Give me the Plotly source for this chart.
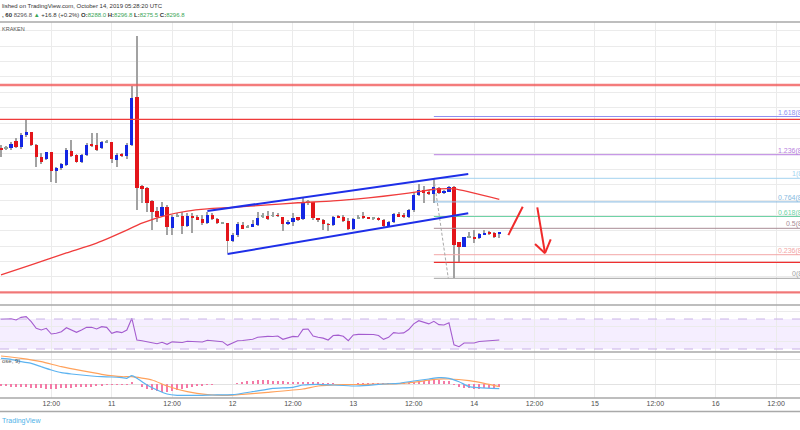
import plotly.graph_objects as go
import pandas as pd

# ---------------- data ----------------
START = "2019-10-10 02:00"   # first visible hourly candle

opens = [8568, 8568, 8570, 8592, 8573, 8610, 8620, 8579, 8541, 8534,
         8555, 8493, 8503, 8513, 8560, 8546, 8522, 8546, 8581, 8579,
         8568, 8588, 8588, 8531, 8547, 8542, 8579, 8736, 8446, 8438,
         8397, 8364, 8349, 8378, 8310, 8348, 8349, 8315, 8349, 8344,
         8338, 8324, 8350, 8337, 8326, 8324, 8268, 8286, 8320, 8313,
         8313, 8319, 8346, 8349, 8348, 8351, 8345, 8322, 8330, 8344,
         8337, 8391, 8392, 8339, 8335, 8322, 8319, 8348, 8344, 8333,
         8305, 8341, 8346, 8344, 8340, 8340, 8334, 8315, 8329, 8353,
         8351, 8344, 8367, 8416, 8432, 8427, 8418, 8440, 8424, 8427,
         8443, 8262, 8248, 8279, 8279, 8275, 8289, 8294, 8292, 8288.0]
highs = [8579, 8575, 8590, 8601, 8618, 8660, 8622, 8582, 8553, 8557,
         8557, 8508, 8521, 8568, 8595, 8548, 8549, 8584, 8618, 8619,
         8593, 8595, 8590, 8553, 8553, 8584, 8770, 8933, 8449, 8443,
         8400, 8378, 8394, 8384, 8351, 8359, 8362, 8357, 8359, 8351,
         8351, 8362, 8359, 8341, 8330, 8326, 8292, 8330, 8330, 8319,
         8335, 8362, 8357, 8365, 8362, 8357, 8346, 8335, 8359, 8346,
         8405, 8400, 8394, 8342, 8337, 8326, 8348, 8351, 8351, 8340,
         8340, 8351, 8362, 8346, 8346, 8344, 8337, 8333, 8359, 8362,
         8357, 8370, 8422, 8452, 8445, 8432, 8465, 8443, 8432, 8445,
         8445, 8264, 8281, 8297, 8302, 8292, 8302, 8300, 8297, 8296.8]
lows = [8540, 8562, 8562, 8569, 8566, 8606, 8575, 8508, 8517, 8530,
        8459, 8456, 8497, 8510, 8541, 8520, 8520, 8543, 8573, 8559,
        8566, 8585, 8519, 8508, 8540, 8532, 8575, 8367, 8389, 8362,
        8302, 8330, 8346, 8286, 8286, 8344, 8290, 8313, 8294, 8335,
        8319, 8322, 8335, 8322, 8322, 8228, 8264, 8281, 8305, 8309,
        8311, 8316, 8340, 8335, 8344, 8346, 8300, 8319, 8315, 8333,
        8335, 8384, 8335, 8330, 8302, 8300, 8315, 8340, 8327, 8302,
        8302, 8337, 8337, 8337, 8335, 8333, 8313, 8313, 8326, 8344,
        8340, 8340, 8362, 8413, 8389, 8416, 8389, 8418, 8421, 8425,
        8145.5, 8200, 8246, 8276, 8259, 8273, 8287, 8286, 8275, 8275.5]
closes = [8565, 8569, 8582, 8573, 8610, 8620, 8579, 8541, 8524, 8555,
          8493, 8503, 8516, 8562, 8544, 8522, 8545, 8580, 8578, 8562,
          8588, 8589, 8532, 8545, 8543, 8580, 8730, 8438, 8436, 8391,
          8360, 8346, 8378, 8311, 8346, 8347, 8315, 8349, 8344, 8338,
          8324, 8350, 8337, 8324, 8325, 8268, 8286, 8321, 8307, 8312,
          8321, 8342, 8347, 8338, 8349, 8348, 8322, 8330, 8340, 8335,
          8389, 8392, 8342, 8335, 8322, 8319, 8346, 8342, 8333, 8305,
          8337, 8342, 8342, 8339, 8341, 8335, 8315, 8329, 8353, 8346,
          8344, 8367, 8416, 8432, 8424, 8418, 8443, 8424, 8427, 8443,
          8254, 8248, 8279, 8280, 8275, 8289, 8294, 8290, 8280, 8296.8]

# moving average (read at selected candle indices)
ma_idx = [0, 6, 13, 19, 25, 28, 33, 37, 41, 46, 53, 59, 66, 73, 79, 83, 86, 90, 99]
ma_val = [8157, 8189, 8228, 8260, 8302, 8325, 8351, 8364, 8371, 8376,
          8384, 8391, 8397, 8407, 8418, 8427, 8435, 8436, 8402]

rsi = [69.6, 70, 70.4, 68.7, 72.2, 73.1, 66.4, 57.6, 55.3, 57.6,
       50, 50.9, 53.1, 58.4, 55.3, 52.2, 55.3, 58.9, 58.9, 56.7,
       59.8, 58.9, 50.9, 53.1, 51.8, 55.3, 70.9, 42, 41.1, 39.8,
       38.5, 37, 38.9, 36.2, 39.5, 39.5, 38.6, 40.3, 40, 39.5,
       39.3, 41.6, 41, 40.5, 39.8, 34.9, 37.6, 41.1, 41.4, 41.8,
       43, 45.6, 46.5, 46.9, 46.6, 47.3, 42.9, 44.5, 46.8, 46.4,
       56.2, 56.7, 47.3, 45.6, 44.5, 42, 48, 48.5, 47, 41.1,
       48.7, 49.5, 49.6, 49.6, 49.3, 48, 42.9, 45.5, 51.8, 51,
       51.5, 56, 63.5, 67.8, 66, 63.5, 67, 62.5, 62, 65,
       35.5, 33.1, 38, 38.4, 38, 40, 40.5, 40.7, 40.7, 42]

macd_idx = [0, 2, 4, 6, 8, 10, 12, 14, 16, 18, 20, 22, 24, 25, 26, 27, 29, 31, 33, 35,
            37, 40, 42, 46, 50, 54, 58, 60, 63, 66, 70, 73, 76, 79, 82, 85, 87, 89, 91, 93,
            95, 99]
macd_val = [51.4, 49.4, 44.6, 41.4, 34.6, 28, 22.6, 20, 18, 16, 14.6, 14, 12.6, 11.4, 16.6,
            11.4, -2, -12, -20, -22.6, -22.6, -22.6, -22, -21.4, -15.4, -8.6, -6.6, -2, -0.6,
            -2, -4, -2.6, 0, 1.4, 6, 10, 12.6, 11.4, 4.6, -5.4, -7.4, -9.4]
sig_idx = [0, 4, 8, 12, 16, 20, 24, 26, 30, 33, 37, 41, 45, 48, 53, 60, 63, 68, 73, 79,
           83, 86, 89, 93, 96, 99]
sig_val = [56, 51.4, 44.6, 34.6, 26.6, 19.4, 14.6, 14.6, 8, -4, -15.4, -21.4, -22.6, -20.6,
           -16.6, -10, -4, -1.4, -0.6, 0.6, 4.6, 9.4, 10, 6.6, 1.4, -5.4]
hist = [-4, -4, -5, -5, -5, -6, -7, -8, -8, -9, -9, -9, -8, -8, -7, -6, -6, -6, -5, -4,
        -3, -2, -2, -2, -1, -1, 5, 0, -6, -10, -12, -14, -16, -16, -14, -12, -10, -8, -6, -4,
        -3, -2, -1, 0, 0, 0, 0, 2, 4, 6, 7, 8, 8, 8, 7, 6, 6, 5, 4, 4,
        5, 5, 4, 3, 2, 1, 1, 0, 0, 0, 0, 1, 1, 1, 1, 1, 1, 1, 2, 2,
        2, 3, 4, 6, 7, 8, 8, 8, 7, 6, -2, -5, -7, -8, -9, -9, -8, -8, -7, -6]

tick_text = ["12:00", "11", "12:00", "12", "12:00", "13", "12:00", "14",
             "12:00", "15", "12:00", "16", "12:00"]

# drawings (time, price)
hlines_full = [8773.75, 8662, 8100]
red_ray = ("2019-10-13 16:00", 8197.5)
channel_upper = [("2019-10-11 19:00", 8364.2), ("2019-10-13 22:50", 8484.5)]
channel_lower = [("2019-10-11 23:00", 8224.5), ("2019-10-13 22:50", 8356.8)]
fib_start = "2019-10-13 16:00"
fib_p1 = 8470.5
fib_p0 = 8145.5
fib_end_time = "2019-10-13 18:52"
fib_levels = [0, 0.236, 0.5, 0.618, 0.764, 1, 1.236, 1.618]
fib_names = ["0", "0.236", "0.5", "0.618", "0.764", "1", "1.236", "1.618"]
up_stroke = [("2019-10-14 06:48", 8286), ("2019-10-14 09:39", 8378)]
arrow_shaft = [("2019-10-14 12:33", 8376), ("2019-10-14 14:05", 8227)]
arrow_head_l = ("2019-10-14 12:06", 8257)
arrow_head_r = ("2019-10-14 15:13", 8272)

# ---------------- styling ----------------
H = 430.0
def yp(px):
    return 1 - px / H

UP = "#1427e3"
DN = "#e3151a"
DOJI = "#8fa39a"
WICK = "#a2a2a2"
GRID = "#ebebeb"
BORDER = "#a9a9a9"
FONT = "Liberation Sans, Arial, sans-serif"
fib_colors = ["#a3a3a3", "#f3a6a6", "#a88b94", "#6fd3a6", "#86b9e0", "#a3d3ef", "#b97fe0", "#8f90f2"]

t0 = pd.Timestamp(START)
def at(i):
    return t0 + pd.Timedelta(hours=i)
times = [at(i) for i in range(len(opens))]
HOUR_MS = 3600 * 1000
PXH = 60.4 / 12.0
xr = [t0 - pd.Timedelta(hours=1 / PXH), t0 + pd.Timedelta(hours=799 / PXH)]
grid_times = [at(10) + pd.Timedelta(hours=12 * k) for k in range(len(tick_text))]

body_base = [min(o, c) for o, c in zip(opens, closes)]
body_h = [max(abs(c - o), 3.0) for o, c in zip(opens, closes)]
body_col = [DOJI if abs(c - o) <= 1.5 else (UP if c > o else DN) for o, c in zip(opens, closes)]

fig = go.Figure()
fig.add_trace(go.Bar(x=times, y=[h - l for h, l in zip(highs, lows)], base=lows,
                     width=0.2 * HOUR_MS, marker=dict(color=WICK, line=dict(width=0)),
                     xaxis="x", yaxis="y", hoverinfo="skip"))
fig.add_trace(go.Bar(x=times, y=body_h, base=body_base, width=0.64 * HOUR_MS,
                     marker=dict(color=body_col, line=dict(width=0)),
                     xaxis="x", yaxis="y", hoverinfo="skip"))
fig.add_trace(go.Scatter(x=[at(i) for i in ma_idx], y=ma_val, mode="lines",
                         line=dict(color="#f03c3c", width=1.3, shape="spline", smoothing=0.6),
                         xaxis="x", yaxis="y"))
fig.add_trace(go.Scatter(x=times, y=rsi, mode="lines", line=dict(color="#a45ccf", width=1.1),
                         xaxis="x2", yaxis="y2"))
fig.add_trace(go.Bar(x=times, y=hist, width=0.26 * HOUR_MS,
                     marker=dict(color="#f47aa6", line=dict(width=0)), xaxis="x3", yaxis="y3"))
fig.add_trace(go.Scatter(x=[at(i) for i in sig_idx], y=sig_val, mode="lines",
                         line=dict(color="#ffa25c", width=1.2, shape="spline", smoothing=0.5),
                         xaxis="x3", yaxis="y3"))
fig.add_trace(go.Scatter(x=[at(i) for i in macd_idx], y=macd_val, mode="lines",
                         line=dict(color="#5cb3f0", width=1.2, shape="spline", smoothing=0.5),
                         xaxis="x3", yaxis="y3"))

xcommon = dict(type="date", range=xr, tickmode="array", tickvals=grid_times,
               showgrid=True, gridcolor=GRID, gridwidth=1, zeroline=False, showline=False,
               ticks="", fixedrange=True)
fig.update_layout(
    width=800, height=430, margin=dict(l=0, r=0, t=0, b=0),
    paper_bgcolor="white", plot_bgcolor="white", showlegend=False,
    barmode="overlay", bargap=0,
    font=dict(family=FONT),
    xaxis=dict(xcommon, anchor="y", showticklabels=False),
    xaxis2=dict(xcommon, anchor="y2", showticklabels=False),
    xaxis3=dict(xcommon, anchor="y3", showticklabels=True, ticktext=tick_text,
                tickfont=dict(size=7, color="#4d4d4d", family=FONT)),
    yaxis=dict(domain=[yp(305), yp(22)], range=[8058.75, 8978.5], dtick=50, tick0=0,
               showgrid=True, gridcolor=GRID, zeroline=False, showticklabels=False, ticks=""),
    yaxis2=dict(domain=[yp(352), yp(305)], range=[26, 88.7], tickvals=[40, 60, 80],
                showgrid=True, gridcolor=GRID, zeroline=False, showticklabels=False, ticks=""),
    yaxis3=dict(domain=[yp(398), yp(352)], range=[-28, 64], tickvals=[0, 50],
                showgrid=True, gridcolor="#e2e2e2", zeroline=False, showticklabels=False, ticks=""),
)

shapes = []
# RSI band
shapes.append(dict(type="rect", xref="paper", yref="y2", x0=0, x1=1, y0=30, y1=70,
                   fillcolor="rgba(160,100,255,0.11)", line=dict(width=0), layer="below"))
for lv in (70, 30):
    shapes.append(dict(type="line", xref="paper", yref="y2", x0=0, x1=1, y0=lv, y1=lv,
                       line=dict(color="#c9b2e6", width=1, dash="dash")))
# horizontal author lines
hl_styles = [("rgba(240,80,80,0.75)", 2.3), ("#ef3b3b", 1.3), ("rgba(240,80,80,0.75)", 2.3)]
for p, (c, w) in zip(hlines_full, hl_styles):
    shapes.append(dict(type="line", xref="paper", yref="y", x0=0, x1=1, y0=p, y1=p,
                       line=dict(color=c, width=w)))
shapes.append(dict(type="line", xref="x", yref="y", x0=red_ray[0], x1="2019-10-17 12:00",
                   y0=red_ray[1], y1=red_ray[1], line=dict(color="#ef2f2f", width=1.3)))
# fib
for lv, c in zip(fib_levels, fib_colors):
    p = fib_p0 + lv * (fib_p1 - fib_p0)
    shapes.append(dict(type="line", xref="x", yref="y", x0=fib_start, x1="2019-10-17 12:00",
                       y0=p, y1=p, line=dict(color=c, width=1)))
shapes.append(dict(type="line", xref="x", yref="y", x0=fib_start, x1=fib_end_time,
                   y0=fib_p1, y1=fib_p0, line=dict(color="#a8a8a8", width=1, dash="3px,2px")))
# channel
for seg in (channel_upper, channel_lower):
    shapes.append(dict(type="line", xref="x", yref="y", x0=seg[0][0], x1=seg[1][0],
                       y0=seg[0][1], y1=seg[1][1], line=dict(color="#1e2fe8", width=2)))
# red strokes / arrow
for a, b in (up_stroke, arrow_shaft, (arrow_head_l, arrow_shaft[1]), (arrow_head_r, arrow_shaft[1])):
    shapes.append(dict(type="line", xref="x", yref="y", x0=a[0], x1=b[0], y0=a[1], y1=b[1],
                       line=dict(color="#f02a2a", width=2)))
# borders / separators
for py_, w in ((22, 1.6), (305, 1.6), (352, 1.4), (398, 1.4), (411.5, 1.6)):
    shapes.append(dict(type="line", xref="paper", yref="paper", x0=0, x1=1,
                       y0=yp(py_), y1=yp(py_), line=dict(color=BORDER, width=w)))
fig.update_layout(shapes=shapes)

ann = []
for lv, name, c in zip(fib_levels, fib_names, fib_colors):
    p = fib_p0 + lv * (fib_p1 - fib_p0)
    ann.append(dict(xref="paper", yref="y", x=824 / 800, y=p, yshift=4, xanchor="right",
                    yanchor="middle", text=f"{name}({p:.1f})", showarrow=False,
                    font=dict(size=7, color=c, family=FONT)))
G = "#3aa657"
ann.append(dict(xref="paper", yref="paper", x=0, y=yp(6), xanchor="left", yanchor="middle",
                text="lished on TradingView.com, October 14, 2019 05:28:20 UTC", showarrow=False,
                font=dict(size=6, color="#333", family=FONT)))
ann.append(dict(xref="paper", yref="paper", x=0, y=yp(15), xanchor="left", yanchor="middle",
                text=(f"<b>, 60</b> <span style='color:#555'>8296.8</span> "
                      f"<span style='color:{G}'>▲</span> +16.8 (+0.2%) "
                      f"<b>O:</b><span style='color:{G}'>8288.0</span> "
                      f"<b>H:</b><span style='color:{G}'>8296.8</span> "
                      f"<b>L:</b><span style='color:{G}'>8275.5</span> "
                      f"<b>C:</b><span style='color:{G}'>8296.8</span>"),
                showarrow=False, font=dict(size=6, color="#333", family=FONT)))
ann.append(dict(xref="paper", yref="paper", x=0, y=yp(29.5), xanchor="left", yanchor="middle",
                text="KRAKEN", showarrow=False, font=dict(size=5.5, color="#555", family=FONT)))
ann.append(dict(xref="paper", yref="paper", x=0, y=yp(361), xanchor="left", yanchor="middle",
                text="ose, 9)", showarrow=False, font=dict(size=6, color="#555", family=FONT)))
ann.append(dict(xref="paper", yref="paper", x=0, y=yp(421), xanchor="left", yanchor="middle",
                text="TradingView", showarrow=False, font=dict(size=7, color="#4fb2e8", family=FONT)))
fig.update_layout(annotations=ann)

fig.write_html("out.html")
